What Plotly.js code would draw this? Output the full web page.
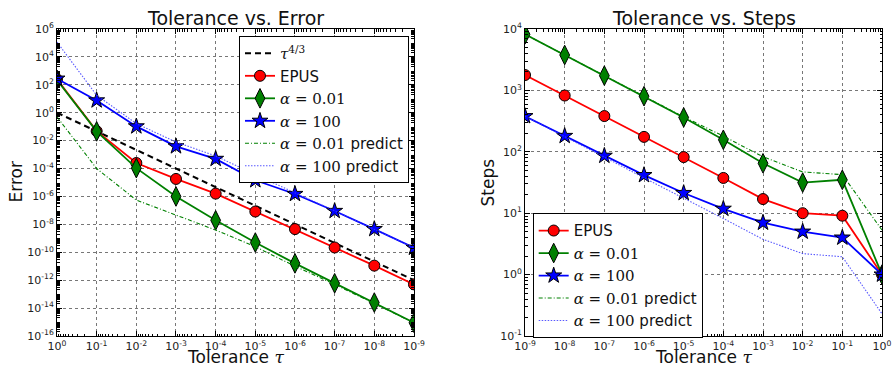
<!DOCTYPE html>
<html><head><meta charset="utf-8">
<script src="https://cdn.plot.ly/plotly-3.0.1.min.js"></script>
<style>html,body{margin:0;padding:0;background:#fff}#chart{width:892px;height:366px}</style>
</head><body><div id="chart"></div>
<script>
// ---------- data ----------
const tolLeft  = [1, 1e-1, 1e-2, 1e-3, 1e-4, 1e-5, 1e-6, 1e-7, 1e-8, 1e-9];
const errTau      = [1, 4.64e-2, 2.15e-3, 1e-4, 4.64e-6, 2.15e-7, 1e-8, 4.64e-10, 2.15e-11, 1e-12];
const errEPUS     = [250, 4.8e-2, 2.5e-4, 1.8e-5, 1.6e-6, 8.3e-8, 4.6e-9, 2.2e-10, 1.1e-11, 5e-13];
const errA001     = [224, 4.6e-2, 1.07e-4, 1e-6, 1.95e-8, 5e-10, 1.6e-11, 6e-13, 2.5e-14, 8.9e-16];
const errA100     = [275, 7.6, 0.105, 3.9e-3, 4.9e-4, 1.45e-5, 1.5e-6, 9.1e-8, 4.6e-9, 2.1e-10];
const errA001Pred = [0.5, 1e-4, 5.5e-7, 4.6e-8, 3.9e-9, 2.5e-10, 1e-11, 5e-13, 2.2e-14, 8.9e-16];
const errA100Pred = [1.15e5, 17.8, 0.166, 7.9e-3, 7.9e-4, 3.6e-5, 1.8e-6, 9.3e-8, 4.6e-9, 2.1e-10];

const tolRight = [1e-9, 1e-8, 1e-7, 1e-6, 1e-5, 1e-4, 1e-3, 1e-2, 1e-1, 1];
const stepsEPUS     = [1780, 825, 382, 175, 82, 37.5, 17, 10, 9.1, 1];
const stepsA001     = [8190, 3770, 1740, 805, 363, 157, 65, 31.5, 35, 1];
const stepsA100     = [380, 181, 86, 41.7, 21.3, 11.8, 7.0, 5.0, 4.0, 1];
const stepsA001Pred = [8190, 3770, 1740, 805, 370, 180, 83, 47, 42.5, 5.3];
const stepsA100Pred = [380, 178, 82, 37.6, 17.8, 8.2, 3.75, 2.2, 1.95, 0.23];

const xTickExpLeft  = [0, -1, -2, -3, -4, -5, -6, -7, -8, -9];
const yTickExpLeft  = [6, 4, 2, 0, -2, -4, -6, -8, -10, -12, -14, -16];
const xTickExpRight = [-9, -8, -7, -6, -5, -4, -3, -2, -1, 0];
const yTickExpRight = [4, 3, 2, 1, 0, -1];

// ---------- helpers ----------
const SERIF = "font-family:DejaVu Serif";
const m = s => `<span style="${SERIF}">${s}</span>`;
const nameTau = m('<i>τ</i><sup>4/3</sup>');
const nameA001 = m('<i>α</i> = 0.01');
const nameA100 = m('<i>α</i> = 100');
const tickText = e => `10<sup>${e}</sup>`;
function minorVals(lo, hi) {
  const v = [];
  for (let d = lo; d < hi; d++) for (let k = 2; k <= 9; k++) v.push(k * Math.pow(10, d));
  return v;
}
function logAxis(exps, lo, hi, extra) {
  return Object.assign({
    type: 'log', showline: true, linecolor: 'black', linewidth: 1, mirror: 'allticks',
    ticks: 'inside', ticklen: 5, tickwidth: 1, tickcolor: 'black',
    showgrid: true, gridcolor: '#777', griddash: 'dot', gridwidth: 1, zeroline: false,
    tickmode: 'array', tickvals: exps.map(e => Math.pow(10, e)), ticktext: exps.map(tickText),
    tickfont: {family: 'DejaVu Sans', size: 11, color: '#222'},
    ticklabeloverflow: 'allow',
    minor: {tickmode: 'array', tickvals: minorVals(lo, hi), ticks: 'inside', ticklen: 2.5,
            tickcolor: 'black', showgrid: false}
  }, extra);
}

const RED = '#ff0000', GREEN = '#008000', BLUE = '#0000ff';
function solid(x, y, name, color, symbol, size, xa, ya, leg) {
  return {x, y, name, xaxis: xa, yaxis: ya, legend: leg, mode: 'lines+markers',
    line: {color, width: 1.8},
    marker: {color, symbol, size, line: {color: 'black', width: 1}}};
}
function thin(x, y, name, color, dash, xa, ya, leg) {
  return {x, y, name, xaxis: xa, yaxis: ya, legend: leg, mode: 'lines',
    line: {color, width: 1.1, dash}};
}
const DASHDOT = '4px,2px,1px,2px';
const DOT = '1.5px,1.5px';
const BLUE_PRED = 'rgba(60,60,255,0.85)';

const traces = [
  {x: tolLeft, y: errTau, name: nameTau, mode: 'lines', xaxis: 'x', yaxis: 'y', legend: 'legend',
   line: {color: 'black', width: 2, dash: '6px,4px'}},
  solid(tolLeft, errEPUS, 'EPUS', RED, 'circle', 11, 'x', 'y', 'legend'),
  solid(tolLeft, errA001, nameA001, GREEN, 'diamond-tall', 14, 'x', 'y', 'legend'),
  solid(tolLeft, errA100, nameA100, BLUE, 'star', 12, 'x', 'y', 'legend'),
  thin(tolLeft, errA001Pred, nameA001 + ' predict', GREEN, DASHDOT, 'x', 'y', 'legend'),
  thin(tolLeft, errA100Pred, nameA100 + ' predict', BLUE_PRED, DOT, 'x', 'y', 'legend'),

  solid(tolRight, stepsEPUS, 'EPUS', RED, 'circle', 11, 'x2', 'y2', 'legend2'),
  solid(tolRight, stepsA001, nameA001, GREEN, 'diamond-tall', 14, 'x2', 'y2', 'legend2'),
  solid(tolRight, stepsA100, nameA100, BLUE, 'star', 12, 'x2', 'y2', 'legend2'),
  thin(tolRight, stepsA001Pred, nameA001 + ' predict', GREEN, DASHDOT, 'x2', 'y2', 'legend2'),
  thin(tolRight, stepsA100Pred, nameA100 + ' predict', BLUE_PRED, DOT, 'x2', 'y2', 'legend2')
];

const legBase = {
  bgcolor: 'white', bordercolor: 'black', borderwidth: 1,
  font: {family: 'DejaVu Sans', size: 15, color: '#111'},
  xanchor: 'left', yanchor: 'top', tracegroupgap: 0, itemwidth: 30
};

const titleFont = {family: 'DejaVu Sans', size: 19, color: '#111'};
const axFont = {family: 'DejaVu Sans', size: 17, color: '#111'};
function ann(text, x, y, font, extra) {
  return Object.assign({text, xref: 'paper', yref: 'paper', x, y, showarrow: false, font}, extra || {});
}

const layout = {
  width: 892, height: 366,
  margin: {l: 57, r: 10, t: 29, b: 30},
  paper_bgcolor: 'white', plot_bgcolor: 'white',
  font: {family: 'DejaVu Sans', color: '#111'},
  xaxis: logAxis(xTickExpLeft, -9, 0, {domain: [0, 0.4327], range: [0, -9], anchor: 'y'}),
  yaxis: logAxis(yTickExpLeft, -16, 6, {range: [-16, 6], anchor: 'x'}),
  xaxis2: logAxis(xTickExpRight, -9, 0, {domain: [0.5673, 1], range: [-9, 0], anchor: 'y2'}),
  yaxis2: logAxis(yTickExpRight, -1, 4, {range: [-1, 4], anchor: 'x2'}),
  legend: Object.assign({}, legBase, {x: 0.2206, y: 0.977}),
  legend2: Object.assign({}, legBase, {x: 0.5766, y: 0.3997}),
  annotations: [
    ann('Tolerance vs. Error', 0.21635, 1, titleFont, {xanchor: 'center', yanchor: 'bottom', yshift: -2}),
    ann('Tolerance vs. Steps', 0.78365, 1, titleFont, {xanchor: 'center', yanchor: 'bottom', yshift: -2}),
    ann('Tolerance ' + m('<i>τ</i>'), 0.21635, -0.07, axFont, {xanchor: 'center', yanchor: 'middle'}),
    ann('Tolerance ' + m('<i>τ</i>'), 0.78365, -0.07, axFont, {xanchor: 'center', yanchor: 'middle'}),
    ann('Error', -0.0509, 0.5, axFont, {xanchor: 'center', yanchor: 'middle', textangle: -90}),
    ann('Steps', 0.5224, 0.5, axFont, {xanchor: 'center', yanchor: 'middle', textangle: -90})
  ]
};

Plotly.newPlot('chart', traces, layout, {staticPlot: true, displayModeBar: false});
</script>
</body></html>
